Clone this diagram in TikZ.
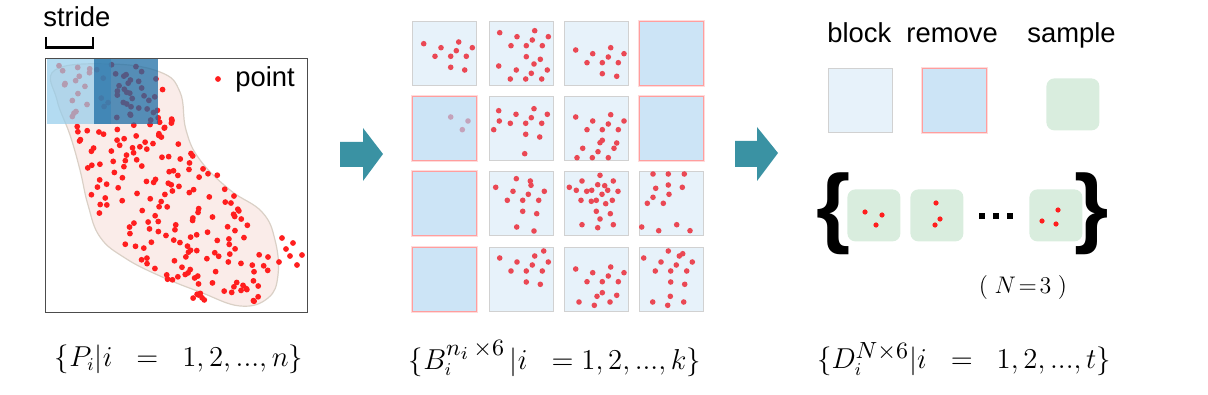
\documentclass[tikz,border=0pt]{standalone}
\usepackage{fontspec}
\usepackage{graphicx}
\newfontfamily\arial{Liberation Sans}
\definecolor{ptred}{RGB}{255,30,30}
\definecolor{cellred}{RGB}{234,72,84}
\definecolor{fadedot}{RGB}{196,162,186}
\definecolor{blockfill}{RGB}{231,242,250}
\definecolor{removefill}{RGB}{204,228,246}
\definecolor{greenfill}{RGB}{217,237,222}
\definecolor{arrowteal}{RGB}{58,146,163}
\definecolor{blobfill}{RGB}{250,236,233}
\definecolor{blobline}{RGB}{218,208,198}
\definecolor{winlight}{RGB}{150,205,235}
\definecolor{windark}{RGB}{30,110,165}
\newcommand{\celldots}[2]{\foreach \a/\b in {#2}{\fill[cellred] ([shift={(\a,\b)}]#1.north west) circle[radius=1.4pt];}}
\newcommand{\bigsup}[1]{\scalebox{1.3}{$\scriptstyle #1$}}
\tikzset{
  blockcell/.style={draw=black!18, line width=0.7pt, fill=blockfill, minimum width=32pt, minimum height=32pt, inner sep=0pt, anchor=north west},
  removecell/.style={preaction={draw=red!14, line width=1.6pt}, draw=red!38, line width=0.4pt, fill=removefill, minimum width=32pt, minimum height=32pt, inner sep=0pt, anchor=north west},
  samplecell/.style={fill=greenfill, rounded corners=4pt, minimum width=26.5pt, minimum height=26pt, inner sep=0pt, anchor=north west},
  label/.style={font=\arial\fontsize{13.7}{15}\selectfont, inner sep=0pt, anchor=base west},
  formula/.style={font=\fontsize{13.5}{16}\selectfont, inner sep=0pt},
  bigarrow/.style={fill=arrowteal},
}
\begin{document}
\begin{tikzpicture}[x=0.5pt,y=-0.5pt]
\useasboundingbox (0,0) rectangle (1208,395);
% ---------- left panel
\node[draw=black!70, line width=0.7pt, minimum width=131pt, minimum height=127pt, inner sep=0pt, anchor=north west] (frame) at (45,58) {};
\fill[blobfill, draw=blobline, line width=0.6pt] plot[smooth cycle, tension=0.7] coordinates {
 (55,70) (110,64) (160,72) (180,92) (186,130) (200,160) (230,190) (262,212) (275,240) (278,275) (268,298) (240,306) (200,292) (160,276) (125,258) (100,237) (88,205) (80,170) (70,135) (57,100)};
\pgfmathsetseed{4242}
\foreach \k in {1,...,235}{
  \pgfmathsetmacro{\u}{(\k-rnd)/235}
  \pgfmathsetmacro{\v}{2*rnd-1}
  \pgfmathsetmacro{\py}{64+238*\u}
  \pgfmathsetmacro{\px}{106+75*\u+50*\u*\u+\v*(48+32*sin(180*\u*\u)-15*\u*\u*\u)}
  \fill[ptred] (\px,\py) circle[radius=1.45pt];
}
\foreach \a/\b in {282/238,293/243,302/255,290/256,279/262,268/257,297/265,286/249}{
  \fill[ptred] (\a,\b) circle[radius=1.45pt];
}
\fill[winlight, opacity=0.72] (47,59) rectangle (111,124);
\fill[windark, opacity=0.75] (94,59) rectangle (158,124);
\node[label] (stride) at (43,27) {stride};
\draw[line width=1.3pt] (46,37) -- (46,47.5) -- (93,47.5) -- (93,37);
\fill[ptred] (218,79) circle[radius=1.45pt];
\node[label] (pointlbl) at (235,87) {point};
% ---------- arrows
\fill[bigarrow] (340,142) -- (363,142) -- (363,128) -- (383,154) -- (363,181) -- (363,167) -- (340,167) -- cycle;
\fill[bigarrow] (735,141) -- (757,141) -- (757,127) -- (778,153) -- (757,181) -- (757,167) -- (735,167) -- cycle;
% ---------- middle grid
\node[blockcell] (c11) at (412,21) {};
\node[blockcell] (c12) at (489,21) {};
\node[blockcell] (c13) at (564,21) {};
\node[removecell] (c14) at (639,21) {};
\node[removecell] (c21) at (412,96) {};
\node[blockcell] (c22) at (489,96) {};
\node[blockcell] (c23) at (564,96) {};
\node[removecell] (c24) at (639,96) {};
\node[removecell] (c31) at (412,171) {};
\node[blockcell] (c32) at (489,171) {};
\node[blockcell] (c33) at (564,171) {};
\node[blockcell] (c34) at (639,171) {};
\node[removecell] (c41) at (412,247) {};
\node[blockcell] (c42) at (489,247) {};
\node[blockcell] (c43) at (564,247) {};
\node[blockcell] (c44) at (639,247) {};
\celldots{c11}{11.7/22.7,29/26.7,46.7/21,23/35.3,38.7/35.3,44.3/29.7,54.3/35.3,60.3/26.7,38.7/46.3,52.7/49}
\celldots{c12}{10.7/11.7,28/15.7,45.7/9.7,59.3/15.7,22/24.7,37.3/24.7,43.3/19,53.3/24.7,37.3/35.7,51.3/38.3,45/43,9.7/45,27.3/49,42.3/52.3,58.3/49,21.3/58,36.7/58,52.7/58}
\celldots{c13}{11.7/29,28.7/32.7,46.7/26.7,60/32.7,23/41.7,38.3/41.7,44.3/36,54.3/41.7,38.3/52.7,52.7/55.3}
\foreach \a/\b in {38.7/21,56/25,50.3/33.7}{\fill[fadedot] ([shift={(\a,\b)}]c21.north west) circle[radius=1.4pt];}
\celldots{c22}{9.7/14.7,27/18.3,45/12.7,58.3/18.3,10.3/25,21.3/27.3,36.7/27.3,42.3/21.7,52.7/27.3,4.7/33.7,36.7/38.3,50.7/41,35.7/57.7}
\celldots{c23}{11.7/21,28.7/25,46.7/18.7,60/25,23/33.7,38.3/33.7,44.3/28,54.3/33.7,36/46.7,38.3/44.3,52.7/47,50/52.3,18.7/52.3,34/55.7,13/61.7,28.3/61.7,44.3/61.7}
\celldots{c32}{6.7/16.3,27.3/7.7,41.3/10,42/14.3,24/20.3,39.3/23.3,55.3/20.3,18.3/29.3,33.7/29.3,49.7/29.3,33.7/40.3,47.7/42.7,27.7/56,45/60}
\celldots{c33}{36/4.3,18/10,49.3/10,5.3/16.3,12.3/19.3,22.7/20.3,27.7/19.3,33.7/13.7,40.7/14.7,43.7/19.3,54/20.3,38/23.3,17/29.3,27.3/30.3,32.3/29.3,41.7/32.7,48.3/29.3,32.3/40.3,46.3/42.7,36/48,18/53.7,33.7/56.7,49.3/53.7}
\celldots{c34}{14/3,29.3/3,45.3/3,16.7/17.3,29.3/14,43.3/16.3,14/26.3,30/23.3,8.3/32.3,24.3/32.3,2.7/56,19.7/59.7,37.7/53.7,51/59.7}
\celldots{c42}{10.7/11,28/15,45.7/9,54.7/4,59.3/15,22/24,37.3/24,43.3/18,53.3/24,37.3/35,51.3/37.3}
\celldots{c43}{11.7/22,28.7/25.7,46.7/20,60/25.7,23/34.7,38.3/34.7,44.3/29,54.3/34.7,38.3/45.7,33/49.3,52.7/48.3,15/55,30.3/58.3,46/55}
\celldots{c44}{29.3/4,4.7/11,22/15,40.3/9,43.7/6.7,53.3/15,37.3/18,16.3/24,31.7/24,47.7/24,31.7/35,45.7/37.3,31.3/49.3,13.7/55,28.7/58.3,44.7/55}
% ---------- right panel
\node[label] (blocklbl) at (827,43) {block};
\node[label] (removelbl) at (906,43) {remove};
\node[label] (samplelbl) at (1027,43) {sample};
\node[blockcell] (legblock) at (828,68) {};
\node[removecell] (legremove) at (922,68) {};
\node[samplecell] (legsample) at (1046,78) {};
\node[font=\arial\bfseries\fontsize{44}{44}\selectfont, inner sep=0pt] (lbrace) at (834,214) {\{};
\node[font=\arial\bfseries\fontsize{44}{44}\selectfont, inner sep=0pt] (rbrace) at (1092,214) {\}};
\node[samplecell] (s1) at (847,189) {};
\node[samplecell] (s2) at (910,189) {};
\node[samplecell] (s3) at (1029,189) {};
\foreach \a/\b in {865/212,882/215,876/225,936/203,940/219,935/225,1058/210,1042/221,1056/224}{
  \fill[ptred] (\a,\b) circle[radius=1.3pt];
}
\foreach \a in {979,993,1007}{\fill (\a,213) rectangle ++(6,6);}
\node[formula, font=\fontsize{11.5}{14}\selectfont] (nlbl) at (1023,287) {$(\;N\!=\!3\;)$};
% ---------- formulas
\node[formula] (f1) at (179,359) {$\{P_i|i\;\;=\;\;1,2,...,n\}$};
\node[formula] (f2) at (555,359) {$\{B_i^{\bigsup{n_i\,\times 6}}\,|i\;\;=1,2,...,k\}$};
\node[formula] (f3) at (964,359) {$\{D_i^{\bigsup{N\times 6}}|i\;\;=\;\;1,2,...,t\}$};
\end{tikzpicture}
\end{document}
